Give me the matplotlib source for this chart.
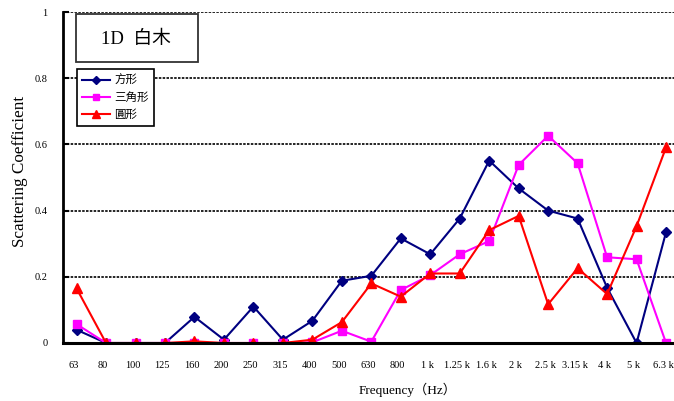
import matplotlib
matplotlib.use("Agg")
import matplotlib.pyplot as plt
import matplotlib.transforms as mtransforms
from matplotlib.patches import Rectangle

freqs = ["63", "80", "100", "125", "160", "200", "250", "315", "400", "500", "630",
         "800", "1 k", "1.25 k", "1.6 k", "2 k", "2.5 k", "3.15 k", "4 k", "5 k", "6.3 k"]

square = [0.04, 0.0, 0.0, 0.0, 0.079, 0.01, 0.11, 0.01, 0.067, 0.188, 0.203,
          0.316, 0.268, 0.376, 0.551, 0.467, 0.400, 0.376, 0.167, 0.0, 0.335]
triangle = [0.057, 0.0, 0.0, 0.0, 0.0, 0.0, 0.0, 0.0, 0.002, 0.037, 0.004,
            0.16, 0.205, 0.268, 0.308, 0.538, 0.626, 0.543, 0.259, 0.253, 0.0]
circle = [0.165, 0.0, 0.0, 0.0, 0.005, 0.0, 0.0, 0.0, 0.01, 0.063, 0.18,
          0.14, 0.21, 0.21, 0.341, 0.384, 0.117, 0.226, 0.148, 0.353, 0.591]

serif = ["Liberation Serif", "Noto Sans CJK TC"]
cjk = ["Noto Sans CJK TC", "DejaVu Sans"]

fig = plt.figure(figsize=(6.74, 4.01), dpi=100)
ax = fig.add_axes([63 / 674, 1 - 343 / 401, 1 - 63 / 674, 331 / 401])

x = list(range(len(freqs)))
ax.plot(x, square, color="#000080", marker="D", markersize=5, lw=1.5, label="方形")
ax.plot(x, triangle, color="#FF00FF", marker="s", markersize=6, lw=1.5, label="三角形")
ax.plot(x, circle, color="#FF0000", marker="^", markersize=7, lw=1.5, label="圓形")

ax.set_xlim(-0.46, 20.27)
ax.set_ylim(0, 1)

for v in [0.2, 0.4, 0.6, 0.8, 1.0]:
    ax.axhline(v, color="black", lw=1.2, ls=(0, (1.5, 0.8)), zorder=0)

for s in ["top", "right"]:
    ax.spines[s].set_visible(False)
ax.spines["left"].set_linewidth(2)
ax.spines["bottom"].set_linewidth(2.2)

ax.set_yticks([0, 0.2, 0.4, 0.6, 0.8, 1.0])
ax.set_yticklabels(["0", "0.2", "0.4", "0.6", "0.8", "1"], family=serif, fontsize=7.5)
ax.tick_params(axis="y", direction="in", length=4, width=1.5, pad=11)
ax.set_xticks(x)
ax.set_xticklabels(freqs, family=serif, fontsize=7.5)
ax.tick_params(axis="x", length=0, pad=13)
shift = mtransforms.ScaledTranslation(-3 / 100, 0, fig.dpi_scale_trans)
for lab in ax.get_xticklabels():
    lab.set_transform(lab.get_transform() + shift)

ax.set_ylabel("Scattering Coefficient", family=serif, fontsize=12.3)
ax.yaxis.set_label_coords(-0.058, (343 - 171) / 331)
ax.text((408 - 63) / 611, (343 - 390) / 331, "Frequency（Hz）", transform=ax.transAxes,
        family=serif, fontsize=9.5, ha="center", va="center", clip_on=False)

# title box
ax.add_patch(Rectangle(((76 - 63) / 611, (343 - 62) / 331), 122 / 611, 48 / 331,
                       transform=ax.transAxes, fill=False, ec="#333333", lw=1.3,
                       clip_on=False, zorder=5))
ax.text((136 - 63) / 611, (343 - 39) / 331, "1D  白木", transform=ax.transAxes,
        family=serif, fontsize=13.5, ha="center", va="center")

leg = ax.legend(loc="upper left", bbox_to_anchor=((77 - 63) / 611, (343 - 69) / 331),
                prop={"family": cjk, "size": 8.3}, fancybox=False, framealpha=1,
                edgecolor="black", borderpad=0.4, labelspacing=0.38,
                handlelength=2.5, handletextpad=0.35, borderaxespad=0, markerscale=0.8)
leg.get_frame().set_linewidth(1.2)

fig.savefig("out.png", dpi=100)
